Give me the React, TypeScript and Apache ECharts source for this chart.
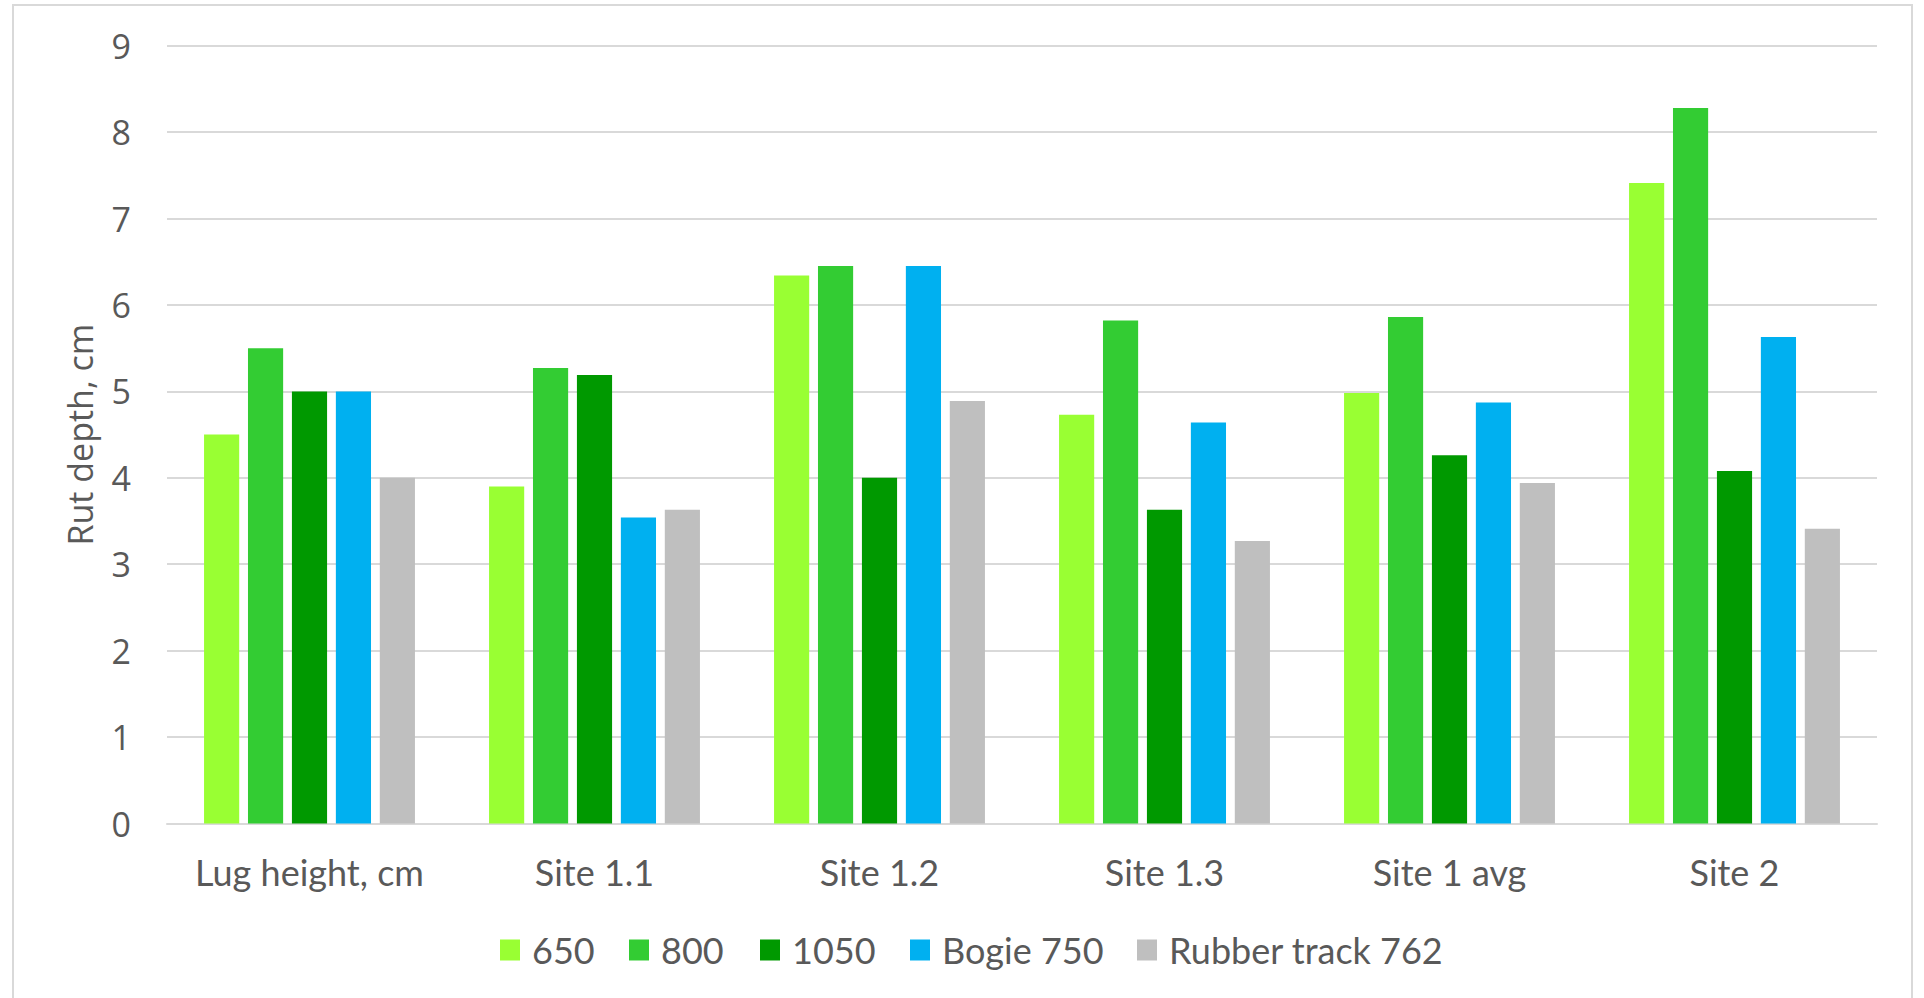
import React, { useEffect, useRef } from "react";
import * as echarts from "echarts";

const categories = ["Lug height, cm", "Site 1.1", "Site 1.2", "Site 1.3", "Site 1 avg", "Site 2"];
const seriesNames = ["650", "800", "1050", "Bogie 750", "Rubber track 762"];
const values650 = [4.5, 3.9, 6.34, 4.73, 4.98, 7.41];
const values800 = [5.5, 5.27, 6.45, 5.82, 5.86, 8.28];
const values1050 = [5.0, 5.19, 4.0, 3.63, 4.26, 4.08];
const valuesBogie = [5.0, 3.54, 6.45, 4.64, 4.87, 5.63];
const valuesRubber = [4.0, 3.63, 4.89, 3.27, 3.94, 3.41];
const yTicks = [0, 1, 2, 3, 4, 5, 6, 7, 8, 9];

const colors = ["#99FF33", "#33CC33", "#009900", "#00B0F0", "#BFBFBF"];
const legendLefts = [500, 629, 760, 910, 1137];
const textColor = "#595959";
const catFont = "Lato, 'Open Sans', sans-serif";

export default function App() {
  const ref = useRef<HTMLDivElement>(null);
  useEffect(() => {
    if (!ref.current) return;
    const chart = echarts.init(ref.current, null, { renderer: "svg" });
    const allValues = [values650, values800, values1050, valuesBogie, valuesRubber];
    chart.setOption({
      animation: false,
      backgroundColor: "#FFFFFF",
      graphic: [
        {
          type: "rect",
          shape: { x: 13, y: 5, width: 1899, height: 1010 },
          style: { fill: "none", stroke: "#D9D9D9", lineWidth: 2 },
          silent: true,
        },
      ],
      legend: seriesNames.map((n, i) => ({
        show: true,
        data: [n],
        left: legendLefts[i],
        top: 930,
        padding: 0,
        itemWidth: 20,
        itemHeight: 21,
        icon: "rect",
        textStyle: {
          color: textColor,
          fontFamily: catFont,
          fontSize: 36,
          lineHeight: 40,
          padding: [0, 0, 0, 7],
        },
      })),
      grid: { left: 167, right: 47, top: 45.7, bottom: 174.5, containLabel: false },
      xAxis: {
        type: "category",
        data: categories,
        axisLine: { show: true, lineStyle: { color: "#D9D9D9", width: 2 } },
        axisTick: { show: false },
        axisLabel: {
          interval: 0,
          color: textColor,
          fontFamily: catFont,
          fontSize: 36,
          margin: 30,
        },
      },
      yAxis: {
        type: "value",
        min: yTicks[0],
        max: yTicks[yTicks.length - 1],
        interval: 1,
        name: "Rut depth, cm",
        nameLocation: "middle",
        nameGap: 70,
        nameTextStyle: {
          color: textColor,
          fontFamily: "'Open Sans', sans-serif",
          fontSize: 34,
        },
        axisLine: { show: false },
        axisTick: { show: false },
        splitLine: { show: true, lineStyle: { color: "#D9D9D9", width: 2 } },
        axisLabel: {
          color: textColor,
          fontFamily: "'Open Sans', sans-serif",
          fontSize: 34,
          margin: 36,
        },
      },
      series: seriesNames.map((n, i) => ({
        name: n,
        type: "bar",
        data: allValues[i],
        barGap: "25%",
        barCategoryGap: "26%",
        itemStyle: { color: colors[i] },
      })),
    });
    return () => chart.dispose();
  }, []);
  return (
    <div
      ref={ref}
      style={{ position: "fixed", left: 0, top: 0, width: "1924px", height: "998px" }}
    />
  );
}
